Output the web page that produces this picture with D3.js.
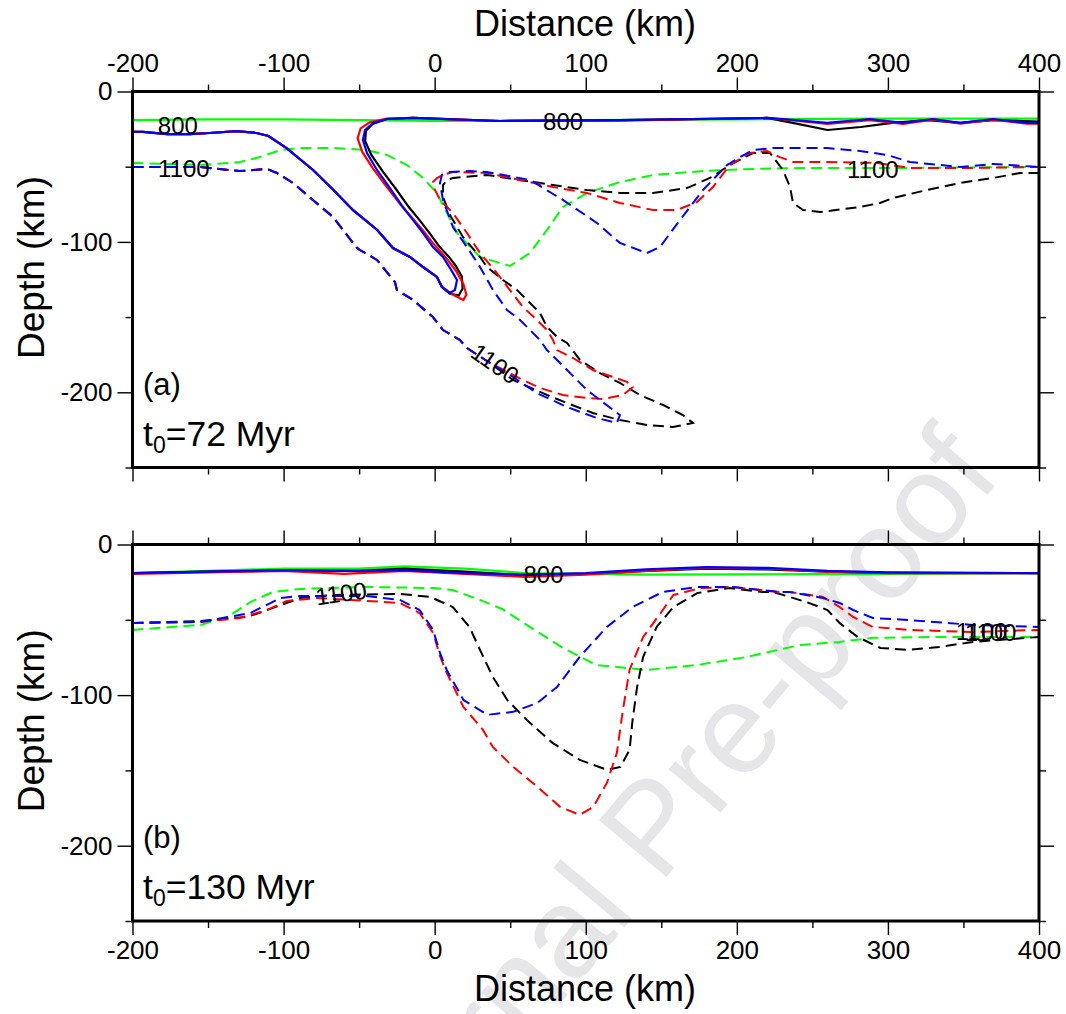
<!DOCTYPE html>
<html>
<head>
<meta charset="utf-8">
<script src="https://cdn.jsdelivr.net/npm/d3@7"></script>
<style>
  html, body { margin: 0; padding: 0; background: #fff; }
  svg { display: block; font-family: "Liberation Sans", Arial, Helvetica, sans-serif; }
</style>
</head>
<body>
<svg id="chart" width="1066" height="1014"></svg>
<script>
// ---------------- DATA ----------------
const xTicksMajor = [-200, -100, 0, 100, 200, 300, 400];
const xTicksMinor = [-150, -50, 50, 150, 250, 350];
const yTicksMajor = [0, -100, -200];
const yTicksMinor = [-50, -150, -250];

// Panel (a): t0 = 72 Myr — 800 °C (solid) contours [distance km, depth km]
const a_green_800 = [[-200,-19],[-150,-18.5],[-100,-18.5],[-50,-19],[0,-19.5],[50,-19.5],[100,-19],[200,-18.5],[300,-18],[400,-18]];
const a_black_800 = [[-200,-26.9],[-193,-26.9],[-177,-28.3],[-162,-28.3],[-149,-27.6],[-131,-26.3],[-118,-27.6],[-110,-29.6],[-98,-37.6],[-80.5,-52.2],[-67,-65.5],[-54,-78.9],[-38,-92.1],[-27.6,-104.1],[-16.4,-110],[-7.7,-116.7],[1.5,-123.3],[4.8,-130],[10,-134.5],[16,-135.5],[18.5,-131],[18,-123],[14,-116],[9.5,-110],[3,-103],[-3.5,-94],[-10,-85.5],[-17,-77],[-25.5,-65],[-34.5,-53],[-42,-42],[-46,-33],[-45.5,-26],[-41,-21.5],[-31.6,-18.3],[-14.4,-17.6],[43,-19.6],[122.6,-19],[220,-17.6],[237,-20.9],[260,-25.6],[282,-23.6],[303,-20.9],[326,-19],[348,-20.9],[370,-19],[400,-20]];
const a_red_800 = [[-200,-26.9],[-193,-26.9],[-177,-28.3],[-162,-28.3],[-149,-27.6],[-131,-26.3],[-118,-27.6],[-110,-29.6],[-98,-37.6],[-80.5,-52.2],[-67,-65.5],[-54,-78.9],[-38,-92.1],[-27.6,-104.1],[-16.4,-110],[-7.7,-116.7],[1.5,-123.3],[5,-130],[12,-135],[19,-138.6],[21,-135],[19,-128],[14,-119],[7,-110],[-1,-101],[-8,-92],[-15,-84],[-22,-76],[-32,-63],[-41,-51],[-48,-40],[-51,-31],[-49,-24.5],[-43,-20.5],[-31.6,-18],[-14.4,-17.6],[43,-19.6],[122.6,-19.3],[220,-17.6],[231,-18.6],[260,-21.5],[288,-19],[310,-21.5],[330,-18.8],[348,-21.3],[370,-18.8],[392,-21.3],[400,-21.3]];
const a_blue_800 = [[-200,-26.9],[-193,-26.9],[-177,-28.3],[-162,-28.3],[-149,-27.6],[-131,-26.3],[-118,-27.6],[-110,-29.6],[-98,-37.6],[-80.5,-52.2],[-67,-65.5],[-54,-78.9],[-38,-92.1],[-27.6,-104.1],[-16.4,-110],[-7.7,-116.7],[1.5,-123.3],[4.8,-130],[10.1,-134],[13.4,-132],[14.8,-125.3],[10.1,-117.3],[5.5,-110],[-1.1,-103.4],[-7.7,-94.1],[-14.4,-85.4],[-21,-76.8],[-29.6,-64.2],[-38.2,-52.2],[-44.8,-40.9],[-47.5,-32.2],[-46.1,-25.6],[-40.8,-20.9],[-31.6,-18.3],[-14.4,-17.6],[43.2,-19.6],[122.6,-19],[220,-17.6],[230.6,-18.3],[259.7,-20.9],[288,-18.3],[310,-20.9],[329.8,-18.3],[347.7,-20.9],[369.6,-18.3],[392,-20.9],[400,-20.9]];

// Panel (a): 1100 °C (dashed) contours
const a_green_1100 = [[-200,-47.5],[-155,-48.9],[-129,-46.9],[-115.6,-43.6],[-102,-38.9],[-89,-37.6],[-67,-37.6],[-45,-38.9],[-31.6,-42.2],[-18.3,-48.9],[-7.7,-57.5],[1.5,-67.5],[14.8,-94.1],[30,-110],[49.8,-116],[63,-107.4],[74.3,-92.1],[84.9,-76.8],[100.8,-67.5],[122.6,-60.2],[144.5,-55.5],[177.6,-52.9],[210.7,-51.5],[241.8,-50.9],[308,-50.9],[400,-50.2]];
const a_black_1100 = [[-200,-50.2],[-177,-50.2],[-155,-50.2],[-129,-52.9],[-111,-51.5],[-104.4,-54.2],[-93.8,-60.8],[-80.6,-72.1],[-67.3,-83.4],[-60.7,-92.1],[-51.4,-104],[-49.5,-105.4],[-38.2,-112],[-26.3,-126.7],[-25,-132],[-14.4,-138.6],[-1.1,-150],[5.5,-158.6],[16.7,-165.2],[21.4,-170.6],[36.6,-180.5],[51.8,-191.8],[74.3,-201.8],[87.5,-207.1],[104.8,-213.8],[122.6,-218.4],[140.5,-221.7],[157.7,-223.1],[170.9,-220.4],[164.3,-215.1],[151.1,-208.4],[135.9,-201.8],[122.6,-193.8],[109.4,-187.2],[96.2,-178.5],[87.6,-167.2],[81,-163.2],[74.4,-156.6],[69.7,-147.3],[63.1,-140.6],[54.5,-132],[45.2,-125.3],[34.6,-116.7],[30,-110],[18.7,-96.7],[10.1,-82.1],[5.5,-70.1],[5.5,-62.2],[8.1,-58.8],[12.1,-57.5],[34.6,-55.5],[56.5,-58.8],[78.3,-62.2],[100.8,-65.5],[122.6,-67.5],[144.5,-67.5],[167,-64.2],[182.2,-57.5],[195.4,-48.9],[210.7,-40.9],[221.9,-40.9],[230.5,-52.2],[235.2,-63.5],[237.2,-74.1],[243.8,-78.8],[255.1,-80.1],[281.6,-76.8],[294.8,-74.1],[303.4,-70.8],[325.9,-65.5],[347.7,-60.8],[369.6,-57.5],[387.4,-54.2],[400,-54.2]];
const a_red_1100 = [[-200,-50.2],[-177,-50.2],[-155,-50.2],[-129,-52.9],[-111,-51.5],[-104.4,-54.2],[-93.8,-60.8],[-80.6,-72.1],[-67.3,-83.4],[-60.7,-92.1],[-51.4,-104],[-49.5,-105.4],[-38.2,-112],[-26.3,-126.7],[-25,-132],[-14.4,-138.6],[-1.1,-150],[5.5,-158.6],[16.7,-165.2],[21.4,-170.6],[36.6,-180.5],[58.4,-191.8],[69.7,-197.1],[84.9,-201.8],[100.8,-203.8],[111.4,-204.5],[124.6,-201.8],[131.2,-196.5],[127.3,-193.1],[118,-189.8],[104.8,-185.2],[91.6,-177.2],[81,-171.9],[78.3,-165.2],[74.4,-158.6],[67.7,-151.9],[58.4,-143.3],[49.8,-132],[41.2,-120.7],[30,-107.4],[21.4,-94.1],[12.1,-80.8],[3.5,-72.1],[0.2,-65.5],[-1.1,-60.2],[1.5,-57.5],[5.5,-55.5],[12.1,-53.5],[34.6,-54.2],[56.5,-58.8],[78.3,-63.5],[100.8,-67.5],[122.6,-74.1],[144.5,-78.8],[160.4,-78.8],[173.6,-73.5],[184.2,-63.5],[195.4,-48.9],[208.7,-40.9],[219.9,-39.6],[228.5,-43.6],[237.2,-46.9],[259.7,-46.9],[292.8,-47.5],[314.6,-50.9],[347.7,-50.9],[400,-50.2]];
const a_blue_1100 = [[-200,-50.2],[-177,-50.2],[-155,-50.2],[-129,-52.9],[-111,-51.5],[-104.4,-54.2],[-93.8,-60.8],[-80.6,-72.1],[-67.3,-83.4],[-60.7,-92.1],[-51.4,-104],[-49.5,-105.4],[-38.2,-112],[-26.3,-126.7],[-25,-132],[-14.4,-138.6],[-1.1,-150],[5.5,-158.6],[16.7,-165.2],[21.4,-170.6],[36.6,-180.5],[51.8,-189.8],[67.7,-200.5],[87.6,-209.8],[107.4,-217.1],[120.6,-220.4],[122.6,-215.1],[118.2,-211.8],[109.4,-205.1],[100.8,-198.5],[94.2,-191.8],[83,-180.5],[74.3,-171.9],[69.7,-165.2],[56.5,-151.9],[47.9,-145.3],[38.6,-132],[30,-116.7],[21.4,-103.4],[12.1,-90.1],[5.5,-72.1],[3.5,-60.8],[4.8,-55.5],[10.1,-53.5],[23.4,-52.9],[34.6,-53.5],[63.1,-58.8],[84.9,-72.1],[107.4,-87.4],[122.6,-100.7],[140.5,-107.4],[149.1,-103.4],[162.4,-85.4],[177.6,-65.5],[193.5,-48.9],[202.1,-43.6],[210.7,-38.9],[224,-37.6],[237.2,-37.6],[259.7,-37.6],[281.6,-39.6],[299.5,-42.2],[314.6,-46.9],[347.7,-50.2],[369.6,-48.2],[400,-50.2]];

// Panel (b): t0 = 130 Myr — 800 °C (solid)
const b_green_800 = [[-200,-19],[-150,-17.5],[-100,-16],[-50,-16],[-20,-14.5],[20,-16],[60,-19],[100,-19.5],[140,-20],[200,-19.8],[300,-19.5],[400,-19]];
const b_black_800 = [[-200,-19],[-150,-18],[-100,-17.5],[-50,-17.5],[-20,-16],[20,-18],[60,-20.5],[100,-19.5],[140,-17.5],[180,-16],[220,-16.5],[260,-18],[300,-18.8],[400,-19]];
const b_red_800 = [[-200,-19.5],[-150,-18.5],[-100,-17.5],[-60,-19.5],[-20,-17.5],[20,-19.5],[60,-21.5],[100,-20],[140,-17.5],[180,-15.5],[220,-16],[260,-18],[300,-19],[400,-19]];
const b_blue_800 = [[-200,-19],[-150,-18],[-100,-17],[-50,-17.5],[-20,-17],[20,-19],[60,-20],[100,-19],[140,-16.5],[180,-15],[220,-15.5],[260,-17.5],[300,-18.5],[400,-19]];

// Panel (b): 1100 °C (dashed)
const b_green_1100 = [[-200,-56.7],[-155,-53.4],[-137,-48.1],[-122,-38.2],[-107,-31.5],[-89,-29.5],[-45,-28.2],[-1,-28.9],[12,-30.2],[30,-36.8],[45,-43],[63,-54.7],[85,-68.7],[107,-80],[140,-83.3],[174,-80],[207,-74.6],[242,-66.7],[268,-64.7],[290,-62],[335,-61.4],[400,-61.4]];
const b_black_1100 = [[-200,-52.1],[-155,-50.8],[-124,-48.1],[-107,-42.1],[-89,-35.5],[-67,-33.5],[-23,-32.8],[-3,-34.8],[12,-41.5],[23,-54.7],[30,-70],[38.5,-87.9],[48,-103.2],[61,-116.5],[78,-131.7],[96,-143],[114,-149.6],[123,-147.7],[129,-136.4],[131,-116.5],[134,-94.6],[138,-74.6],[147,-54.7],[158,-41.5],[174,-32.2],[195,-28.9],[217,-31.5],[224,-31.5],[246,-38.2],[260,-43.5],[268,-52.1],[280,-61.4],[295,-68.7],[313,-70],[334,-68],[356,-64.7],[400,-61.4]];
const b_red_1100 = [[-200,-52.1],[-155,-51.4],[-129,-48.8],[-111,-43.5],[-98,-37.5],[-78,-35.5],[-56,-36.8],[-23,-38.8],[-10,-45.5],[-1,-58.7],[3.5,-74],[8,-85.3],[19,-107.8],[32,-123.1],[38.5,-134.4],[52,-147.7],[68,-160.9],[83,-174.2],[96,-179.5],[105,-174.2],[114,-158.3],[120.6,-138.4],[124.6,-109.8],[129,-83.3],[138,-61.4],[151,-43.5],[158,-33.5],[176,-28.9],[197,-28.2],[228,-31.5],[235,-31.5],[257,-34.8],[268,-41.5],[277,-48.1],[290,-54.7],[313,-56.7],[356,-58.1],[400,-56.7]];
const b_blue_1100 = [[-200,-52.1],[-155,-51.4],[-122,-45.5],[-102,-35.5],[-89,-34.2],[-45,-34.2],[-23,-36.8],[-10,-43.5],[-1,-56.7],[3.5,-72],[8,-83.3],[19,-103.2],[35,-113.1],[52,-111.1],[68,-105.2],[81,-94.6],[96,-74.6],[114,-54.7],[131,-41.5],[151,-31.5],[174,-28.2],[197,-28.2],[228,-31.5],[235,-31.5],[257,-35.5],[268,-38.8],[277,-43.5],[290,-48.8],[313,-50.1],[356,-53.4],[400,-54.7]];

// Contour labels [distance, depth, text, angle]
const a_labels = [[-170,-22.5,"800",0],[-166,-51,"1100",0],[85,-20,"800",0],[290,-52,"1100",0],[40,-181,"1100",35]];
const b_labels = [[-62,-32.5,"1100",-8],[72,-20,"800",0],[362,-58,"1100",0],[368,-58.5,"1100",0]];

const panelTitles = ["(a)", "(b)"];
const panelAges = ["72 Myr", "130 Myr"];

// ---------------- DRAW ----------------
const svg = d3.select("#chart");

// watermark
svg.append("text")
  .attr("transform", "translate(685,855) rotate(-50)")
  .attr("text-anchor", "middle")
  .attr("font-size", 128)
  .attr("fill", "#e6e6e8")
  .text("Journal Pre-proof");

const x = d3.scaleLinear().domain([-200, 400]).range([132.5, 1039]);

const panels = [
  { y: d3.scaleLinear().domain([-250, 0]).range([467.5, 91.5]),
    series: [
      [a_green_800, "#00ff00", false], [a_black_800, "#000000", false], [a_red_800, "#ff0000", false], [a_blue_800, "#0000ff", false],
      [a_green_1100, "#00ff00", true], [a_black_1100, "#000000", true], [a_red_1100, "#ff0000", true], [a_blue_1100, "#0000ff", true]
    ],
    labels: a_labels, topLabels: true, bottomLabels: false },
  { y: d3.scaleLinear().domain([-250, 0]).range([921, 544.5]),
    series: [
      [b_green_800, "#00ff00", false], [b_black_800, "#000000", false], [b_red_800, "#ff0000", false], [b_blue_800, "#0000ff", false],
      [b_green_1100, "#00ff00", true], [b_black_1100, "#000000", true], [b_red_1100, "#ff0000", true], [b_blue_1100, "#0000ff", true]
    ],
    labels: b_labels, topLabels: false, bottomLabels: true }
];

const fmt = d => String(d);

panels.forEach((p, i) => {
  const y = p.y;
  const [y0, y1] = [y(0), y(-250)];
  const g = svg.append("g");

  const clipId = "clip" + i;
  svg.append("clipPath").attr("id", clipId)
    .append("rect").attr("x", x(-200)).attr("y", y0).attr("width", x(400) - x(-200)).attr("height", y1 - y0);

  const plot = g.append("g").attr("clip-path", `url(#${clipId})`);
  const line = d3.line().x(d => x(d[0])).y(d => y(d[1])).curve(d3.curveLinear);

  p.series.filter(s => s[2]).forEach(s => {
    plot.append("path").attr("d", line(s[0])).attr("fill", "none")
      .attr("stroke", s[1]).attr("stroke-width", 2).attr("stroke-dasharray", "11,6");
  });
  p.series.filter(s => !s[2]).forEach(s => {
    plot.append("path").attr("d", line(s[0])).attr("fill", "none")
      .attr("stroke", s[1]).attr("stroke-width", 2.2);
  });

  p.labels.forEach(l => {
    g.append("text")
      .attr("transform", `translate(${x(l[0])},${y(l[1])}) rotate(${l[3]})`)
      .attr("text-anchor", "middle").attr("dominant-baseline", "central")
      .attr("font-size", 24).attr("fill", "#000").text(l[2]);
  });

  const styleAxis = (sel) => {
    sel.select(".domain").remove();
    sel.selectAll(".tick line").attr("stroke", "#000").attr("stroke-width", 1.4);
    sel.selectAll(".tick text").attr("font-size", 26).attr("fill", "#000")
      .attr("font-family", "Liberation Sans, Arial, sans-serif");
  };

  g.append("g").attr("transform", `translate(0,${y0})`)
    .call(d3.axisTop(x).tickValues(xTicksMajor).tickSize(14).tickPadding(6).tickFormat(p.topLabels ? fmt : ""))
    .call(styleAxis);
  g.append("g").attr("transform", `translate(0,${y0})`)
    .call(d3.axisTop(x).tickValues(xTicksMinor).tickSize(7).tickFormat(""))
    .call(styleAxis);
  g.append("g").attr("transform", `translate(0,${y1})`)
    .call(d3.axisBottom(x).tickValues(xTicksMajor).tickSize(14).tickPadding(6).tickFormat(p.bottomLabels ? fmt : ""))
    .call(styleAxis);
  g.append("g").attr("transform", `translate(0,${y1})`)
    .call(d3.axisBottom(x).tickValues(xTicksMinor).tickSize(7).tickFormat(""))
    .call(styleAxis);
  g.append("g").attr("transform", `translate(${x(-200)},0)`)
    .call(d3.axisLeft(y).tickValues(yTicksMajor).tickSize(15).tickPadding(5).tickFormat(fmt))
    .call(styleAxis);
  g.append("g").attr("transform", `translate(${x(-200)},0)`)
    .call(d3.axisLeft(y).tickValues(yTicksMinor).tickSize(7).tickFormat(""))
    .call(styleAxis);
  g.append("g").attr("transform", `translate(${x(400)},0)`)
    .call(d3.axisRight(y).tickValues(yTicksMajor).tickSize(15).tickFormat(""))
    .call(styleAxis);
  g.append("g").attr("transform", `translate(${x(400)},0)`)
    .call(d3.axisRight(y).tickValues(yTicksMinor).tickSize(7).tickFormat(""))
    .call(styleAxis);

  g.append("rect").attr("x", x(-200)).attr("y", y0)
    .attr("width", x(400) - x(-200)).attr("height", y1 - y0)
    .attr("fill", "none").attr("stroke", "#000").attr("stroke-width", 3);

  g.append("text")
    .attr("transform", `translate(44,${(y0 + y1) / 2 - 12}) rotate(-90)`)
    .attr("text-anchor", "middle").attr("font-size", 37).text("Depth (km)");

  g.append("text").attr("x", 143).attr("y", y1 - 73).attr("font-size", 31).text(panelTitles[i]);
  const t = g.append("text").attr("x", 143).attr("y", y1 - 22).attr("font-size", 35.5);
  t.append("tspan").text("t");
  t.append("tspan").attr("font-size", 23).attr("dy", 7).text("0");
  t.append("tspan").attr("dy", -7).text("=" + panelAges[i]);
});

svg.append("text").attr("x", 585).attr("y", 36).attr("text-anchor", "middle")
  .attr("font-size", 36).text("Distance (km)");
svg.append("text").attr("x", 585).attr("y", 1001).attr("text-anchor", "middle")
  .attr("font-size", 36).text("Distance (km)");
</script>
</body>
</html>
